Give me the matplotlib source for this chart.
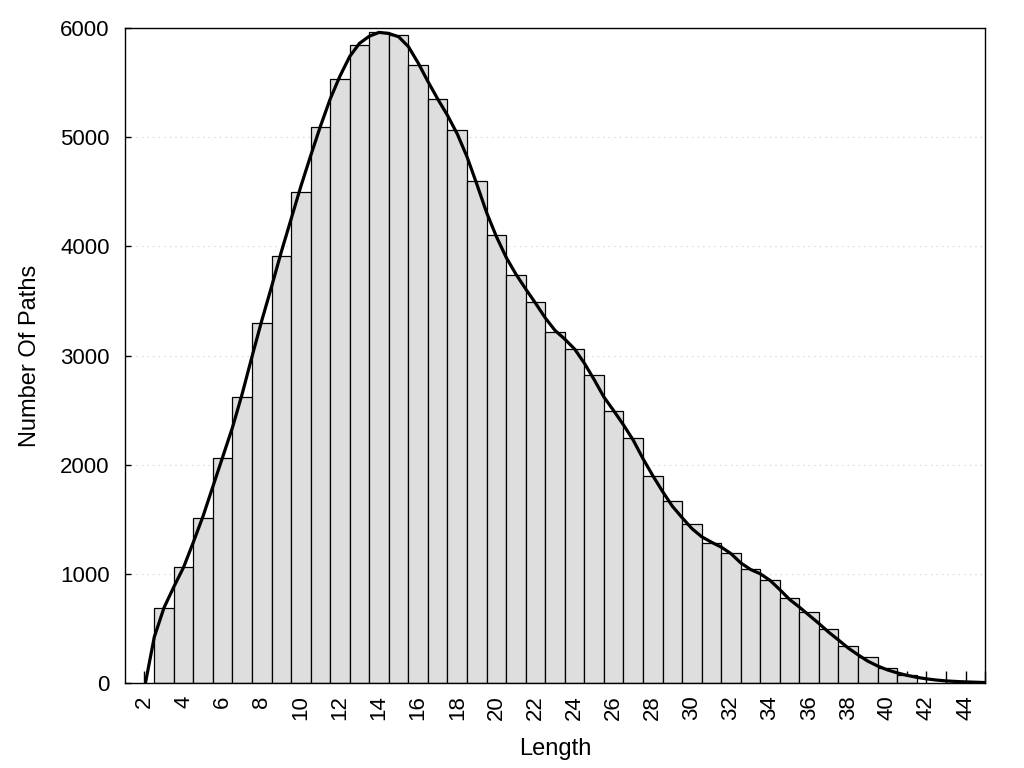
import numpy as np
import matplotlib
matplotlib.use("Agg")
import matplotlib.pyplot as plt

plt.rcParams['font.family'] = ['Liberation Sans', 'DejaVu Sans']

# histogram bars (path length -> count)
lengths = list(range(3, 42))
counts = [684, 1067, 1508, 2058, 2617, 3295, 3908, 4495, 5090, 5530,
          5841, 5960, 5933, 5658, 5347, 5063, 4595, 4101, 3735, 3487,
          3212, 3057, 2819, 2496, 2247, 1899, 1670, 1459, 1285, 1194,
          1047, 946, 781, 647, 492, 342, 235, 134, 76]

# smooth curve
curve_x = [2.05, 2.5, 3, 3.5, 4, 4.5, 5, 5.5, 6, 6.5, 7, 7.5, 8, 8.5, 9, 9.5,
           10, 10.5, 11, 11.5, 12, 12.5, 13, 13.5, 14, 14.5, 15, 15.5, 16, 16.5,
           17, 17.5, 18, 18.5, 19, 19.5, 20, 20.5, 21, 21.5, 22, 22.5, 23, 23.5,
           24, 24.5, 25, 25.5, 26, 26.5, 27, 27.5, 28, 28.5, 29, 29.5, 30, 30.5,
           31, 31.5, 32, 32.5, 33, 33.5, 34, 34.5, 35, 35.5, 36, 36.5, 37, 37.5,
           38, 38.5, 39, 39.5, 40, 40.5, 41, 41.5, 42, 42.5, 43, 43.5, 44, 44.5, 45]
curve_y = [0, 420, 690, 880, 1060, 1290, 1530, 1800, 2070, 2340, 2650, 2990,
           3320, 3630, 3950, 4250, 4550, 4830, 5100, 5350, 5560, 5740, 5860,
           5925, 5960, 5950, 5920, 5830, 5680, 5510, 5350, 5200, 5030, 4820,
           4570, 4310, 4090, 3900, 3745, 3610, 3480, 3345, 3230, 3150, 3060,
           2930, 2780, 2620, 2495, 2365, 2225, 2055, 1900, 1755, 1620, 1515,
           1415, 1340, 1290, 1245, 1185, 1100, 1040, 1000, 940, 855, 765, 695,
           620, 545, 465, 394, 320, 258, 200, 156, 120, 93, 70, 52, 38, 27, 19,
           14, 10, 7, 4]

xticks = list(range(2, 46))
xticklabels = [str(t) if t % 2 == 0 and t <= 44 else '' for t in xticks]
yticks = [0, 1000, 2000, 3000, 4000, 5000, 6000]

fig = plt.figure(figsize=(10.24, 7.68), dpi=100)
ax = fig.add_axes([0.122, 0.1107, 0.84, 0.8528])

for y in yticks[1:]:
    ax.axhline(y, color='#cccccc', lw=0.8, ls=(0, (1, 4)), zorder=0)

ax.bar(lengths, counts, width=1.0, color='#dedede', edgecolor='black',
       linewidth=0.9, zorder=2)
ax.plot(curve_x, curve_y, color='black', lw=2.3, zorder=3,
        solid_joinstyle='round')

ax.set_xlim(1, 45)
ax.set_ylim(0, 6000)
ax.set_xticks(xticks)
ax.set_xticklabels(xticklabels, rotation=90, fontsize=16)
ax.set_yticks(yticks)
ax.set_yticklabels([str(t) for t in yticks], fontsize=16)
ax.tick_params(axis='x', direction='in', length=8.5, width=1, pad=9)
ax.tick_params(axis='y', direction='in', length=4.5, width=1, pad=11)
for s in ax.spines.values():
    s.set_linewidth(1)
    s.set_zorder(4)

ax.set_xlabel('Length', fontsize=17, labelpad=13)
ax.set_ylabel('Number Of Paths', fontsize=17, labelpad=14)

fig.savefig('out.png', dpi=100)
